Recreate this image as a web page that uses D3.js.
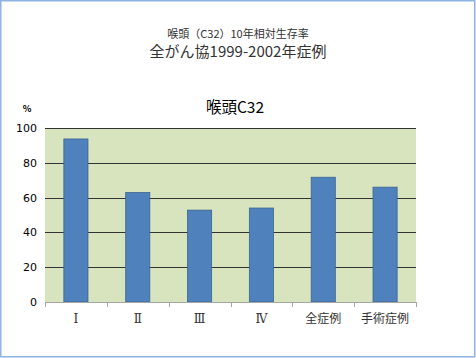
<!DOCTYPE html>
<html>
<head>
<meta charset="utf-8">
<script src="https://cdn.jsdelivr.net/npm/d3@7"></script>
<style>
  body { margin: 0; background: #fff; }
  svg { display: block; font-family: "Noto Sans CJK JP", "DejaVu Sans", sans-serif; }
</style>
</head>
<body>
<svg class="chart" width="476" height="358"></svg>
<script>
var categories = ["Ⅰ", "Ⅱ", "Ⅲ", "Ⅳ", "全症例", "手術症例"];
var survival = [93.7, 62.9, 52.8, 54, 71.7, 66];
var yTicks = [0, 20, 40, 60, 80, 100];

var svg = d3.select(".chart");

// frame
svg.append("rect")
    .attr("x", 0.75).attr("y", 0.75)
    .attr("width", 474).attr("height", 356)
    .attr("fill", "#fff")
    .attr("stroke", "#8db4e2")
    .attr("stroke-width", 1.5);

var plotLeft = 45, plotRight = 416, plotTop = 128, plotBottom = 302;

var x = d3.scaleBand().domain(categories).range([plotLeft, plotRight]).paddingInner(0.61).paddingOuter(0.305);
var y = d3.scaleLinear().domain([0, 100]).range([plotBottom, plotTop]);

// titles
svg.append("text").attr("x", 238).attr("y", 38).attr("text-anchor", "middle")
    .attr("font-size", 11).attr("fill", "#333").text("喉頭（C32）10年相対生存率");
svg.append("text").attr("x", 238).attr("y", 57).attr("text-anchor", "middle")
    .attr("font-size", 15).attr("fill", "#333").text("全がん協1999-2002年症例");
svg.append("text").attr("x", 235).attr("y", 113).attr("text-anchor", "middle")
    .attr("font-size", 15.5).attr("fill", "#000").text("喉頭C32");
svg.append("text").attr("x", 27).attr("y", 112).attr("text-anchor", "middle")
    .attr("font-size", 9).attr("font-weight", "bold").attr("fill", "#000").text("%");

// plot background
svg.append("rect")
    .attr("x", plotLeft).attr("y", plotTop)
    .attr("width", plotRight - plotLeft).attr("height", plotBottom - plotTop)
    .attr("fill", "#d7e4bd");

// gridlines
svg.append("g").selectAll("line")
    .data(yTicks.filter(function(d) { return d > 0; }))
    .enter().append("line")
    .attr("x1", plotLeft).attr("x2", plotRight)
    .attr("y1", function(d) { return Math.round(y(d)) + 0.5; })
    .attr("y2", function(d) { return Math.round(y(d)) + 0.5; })
    .attr("stroke", "#333")
    .attr("stroke-width", 1);

// bars
svg.append("g").selectAll("rect")
    .data(survival)
    .enter().append("rect")
    .attr("x", function(d, i) { return x(categories[i]); })
    .attr("y", function(d) { return y(d); })
    .attr("width", x.bandwidth())
    .attr("height", function(d) { return plotBottom - y(d); })
    .attr("fill", "#4f81bd")
    .attr("stroke", "#3a6494")
    .attr("stroke-width", 0.8);

// y axis labels
svg.append("g").selectAll("text")
    .data(yTicks)
    .enter().append("text")
    .attr("x", 37)
    .attr("y", function(d) { return y(d) + 4; })
    .attr("text-anchor", "end")
    .attr("font-size", 11)
    .attr("font-family", "Verdana, 'DejaVu Sans', sans-serif")
    .attr("fill", "#000")
    .text(function(d) { return d; });

// x axis
var xAxis = d3.axisBottom(x).tickSize(0).tickPadding(12);
var gx = svg.append("g")
    .attr("transform", "translate(0," + plotBottom + ")")
    .call(xAxis);
gx.select(".domain").attr("stroke", "#a6a6a6").attr("d", "M" + plotLeft + ",0.5H" + plotRight);
gx.selectAll("text").attr("font-size", 12).attr("fill", "#333")
    .attr("font-family", function(d, i) { return i < 4 ? "'DejaVu Serif', serif" : "'Noto Sans CJK JP', sans-serif"; });

gx.selectAll(".sep")
    .data(d3.range(categories.length + 1))
    .enter().append("line")
    .attr("x1", function(i) { return Math.round(plotLeft + i * (plotRight - plotLeft) / categories.length) + 0.5; })
    .attr("x2", function(i) { return Math.round(plotLeft + i * (plotRight - plotLeft) / categories.length) + 0.5; })
    .attr("y1", 0).attr("y2", 5)
    .attr("stroke", "#a6a6a6");
</script>
</body>
</html>
